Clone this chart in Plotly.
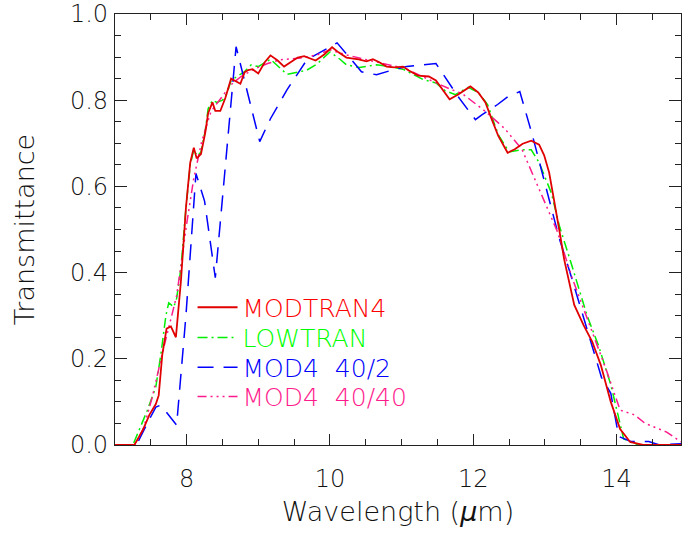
import plotly.graph_objects as go

# ---------------- data ----------------
wl_modtran4 = [7.0, 7.27, 7.39, 7.48, 7.57, 7.61, 7.66, 7.72, 7.78, 7.85, 7.92, 7.99, 8.05, 8.10, 8.14,
               8.20, 8.26, 8.30, 8.36, 8.40, 8.47, 8.54, 8.62, 8.67, 8.75, 8.81, 8.86, 8.92, 9.00, 9.09,
               9.17, 9.27, 9.36, 9.45, 9.55, 9.64, 9.80, 9.92, 10.03, 10.12, 10.23, 10.40, 10.51, 10.60,
               10.69, 10.79, 10.90, 11.02, 11.10, 11.23, 11.38, 11.48, 11.57, 11.67, 11.79, 11.96, 12.07,
               12.17, 12.26, 12.35, 12.48, 12.58, 12.69, 12.81, 12.92, 12.99, 13.06, 13.13, 13.20, 13.27,
               13.34, 13.41, 13.54, 13.66, 13.78, 13.92, 14.05, 14.19, 14.37, 14.90]
t_modtran4 = [0.0, 0.0, 0.035, 0.07, 0.095, 0.115, 0.21, 0.27, 0.275, 0.25, 0.38, 0.55, 0.655, 0.69, 0.665,
              0.675, 0.725, 0.77, 0.795, 0.775, 0.775, 0.805, 0.85, 0.845, 0.838, 0.865, 0.87, 0.872, 0.862, 0.888,
              0.904, 0.892, 0.878, 0.888, 0.899, 0.902, 0.892, 0.906, 0.923, 0.911, 0.899, 0.895, 0.89, 0.895,
              0.888, 0.878, 0.876, 0.878, 0.869, 0.857, 0.855, 0.846, 0.825, 0.802, 0.813, 0.832, 0.818,
              0.795, 0.755, 0.717, 0.678, 0.686, 0.699, 0.706, 0.697, 0.672, 0.632, 0.57, 0.50, 0.43,
              0.375, 0.325, 0.278, 0.24, 0.186, 0.10, 0.037, 0.007, 0.0, 0.0]

wl_lowtran = [7.0, 7.25, 7.45, 7.57, 7.64, 7.71, 7.75, 7.82, 7.86, 7.92, 7.99, 8.05, 8.10, 8.15, 8.20, 8.26,
              8.30, 8.36, 8.42, 8.50, 8.56, 8.62, 8.70, 8.80, 8.90, 9.00, 9.17, 9.40, 9.55, 9.68, 9.82,
              10.00, 10.14, 10.23, 10.41, 10.65, 10.83, 11.02, 11.30, 11.48, 11.61, 11.75, 11.93, 12.07,
              12.20, 12.35, 12.50, 12.68, 12.81, 12.92, 13.09, 13.20, 13.37, 13.59, 13.75, 13.92, 14.10,
              14.30, 14.90]
t_lowtran = [0.0, 0.0, 0.08, 0.135, 0.21, 0.30, 0.33, 0.32, 0.34, 0.41, 0.55, 0.65, 0.685, 0.67, 0.68, 0.73,
             0.78, 0.80, 0.795, 0.80, 0.815, 0.845, 0.855, 0.865, 0.882, 0.878, 0.895, 0.86, 0.865, 0.87, 0.884,
             0.912, 0.895, 0.882, 0.876, 0.882, 0.878, 0.872, 0.848, 0.84, 0.822, 0.813, 0.83, 0.818,
             0.79, 0.72, 0.68, 0.685, 0.685, 0.655, 0.585, 0.51, 0.42, 0.30, 0.23, 0.14, 0.014,
             0.0, 0.0]

wl_mod4_40_2 = [7.0, 7.30, 7.45, 7.57, 7.63, 7.70, 7.86, 7.99, 8.13, 8.25, 8.40, 8.69, 9.02, 9.17, 9.40,
                9.68, 9.80, 10.10, 10.30, 10.44, 10.65, 10.83, 11.07, 11.27, 11.48, 11.79, 12.03, 12.12,
                12.34, 12.48, 12.65, 12.83, 13.02, 13.20, 13.37, 13.54, 13.66, 13.79, 13.92, 14.03, 14.20,
                14.45, 14.60, 14.90]
t_mod4_40_2 = [0.0, 0.0, 0.05, 0.088, 0.092, 0.08, 0.046, 0.30, 0.63, 0.566, 0.388, 0.924, 0.704, 0.757, 0.824,
               0.894, 0.905, 0.933, 0.894, 0.866, 0.859, 0.868, 0.878, 0.882, 0.885, 0.808, 0.755, 0.766,
               0.79, 0.808, 0.82, 0.716, 0.596, 0.48, 0.39, 0.295, 0.226, 0.157, 0.12, 0.02, 0.008,
               0.008, 0.0, 0.003]

wl_mod4_40_40 = [7.0, 7.28, 7.40, 7.52, 7.66, 7.78, 7.86, 7.92, 8.00, 8.10, 8.21, 8.34, 8.48, 8.62, 8.76,
                 8.95, 9.13, 9.31, 9.59, 9.82, 10.00, 10.23, 10.51, 10.83, 11.06, 11.38, 11.66, 11.85,
                 12.17, 12.44, 12.68, 12.95, 13.17, 13.38, 13.64, 13.86, 14.05, 14.25, 14.40, 14.70, 14.90]
t_mod4_40_40 = [0.0, 0.0, 0.04, 0.111, 0.212, 0.289, 0.346, 0.416, 0.513, 0.619, 0.704, 0.774, 0.804, 0.836,
                0.855, 0.873, 0.885, 0.894, 0.898, 0.905, 0.917, 0.905, 0.894, 0.882, 0.873, 0.848, 0.827,
                0.815, 0.774, 0.734, 0.686, 0.582, 0.497, 0.388, 0.273, 0.173, 0.081, 0.07, 0.05, 0.03, 0.007]

series_names = ["MODTRAN4", "LOWTRAN", "MOD4  40/2", "MOD4  40/40"]
series_colors = ["#e00000", "#00ee00", "#0000ff", "#ff1a8c"]
legend_text_colors = ["#ff0000", "#00ff00", "#0000ff", "#ff1a8c"]
series_dashes = ["solid", "10px,4px,2px,4px", "16px,10px", "9px,4px,2px,4px,2px,4px,2px,4px"]
series_widths = [1.8, 1.5, 1.5, 1.5]
series_x = [wl_modtran4, wl_lowtran, wl_mod4_40_2, wl_mod4_40_40]
series_y = [t_modtran4, t_lowtran, t_mod4_40_2, t_mod4_40_40]

x_ticks = [8, 10, 12, 14]
y_ticks = [0.0, 0.2, 0.4, 0.6, 0.8, 1.0]

FONT = "DejaVu Sans"
legend_ids = ["legend", "legend2", "legend3", "legend4"]
legend_rows_y = [0.319, 0.249, 0.180, 0.112]  # paper positions of legend rows

fig = go.Figure()
order = [1, 2, 3, 0]  # draw MODTRAN4 last (on top)
for i in order:
    fig.add_trace(go.Scatter(
        x=series_x[i], y=series_y[i], mode="lines",
        name=f"<span style='color:{legend_text_colors[i]}'>{series_names[i]}</span>",
        line=dict(color=series_colors[i], width=series_widths[i], dash=series_dashes[i]),
        legend=legend_ids[i],
    ))

axis_common = dict(
    showgrid=False, zeroline=False, showline=True, linecolor="#222", linewidth=1.2,
    mirror="allticks", ticks="inside", tickcolor="#222", tickwidth=1.2,
    tickfont=dict(family=FONT, size=24, color="#111", weight=300),
    ticklabeloverflow="allow",
)

fig.update_xaxes(
    range=[7.0, 14.9], tickvals=x_ticks, ticktext=[str(v) for v in x_ticks], ticklen=11,
    minor=dict(dtick=0.5, ticks="inside", ticklen=6, tickcolor="#222", tickwidth=1.2),
    title=dict(text="Wavelength (<i>μ</i>m)", font=dict(family=FONT, size=27, color="#111", weight=300),
               standoff=10),
    ticklabelstandoff=12,
    **axis_common,
)
fig.update_yaxes(
    range=[0.0, 1.0], tickvals=y_ticks, ticktext=[f"{v:.1f}" for v in y_ticks], ticklen=12,
    minor=dict(dtick=0.05, ticks="inside", ticklen=6, tickcolor="#222", tickwidth=1.2),
    title=dict(text="Transmittance", font=dict(family=FONT, size=27, color="#111", weight=300),
               standoff=27),
    ticklabelstandoff=1,
    **axis_common,
)

legend_style = dict(
    x=0.137, xanchor="left", yanchor="middle",
    bgcolor="rgba(0,0,0,0)", borderwidth=0,
    font=dict(family=FONT, size=25, weight=300),
    itemwidth=40,
)
layout_legends = {lid: dict(y=ly, **legend_style) for lid, ly in zip(legend_ids, legend_rows_y)}

fig.update_layout(
    width=682, height=533,
    margin=dict(l=115, r=0, t=12, b=88),
    paper_bgcolor="white", plot_bgcolor="white",
    showlegend=True,
    **layout_legends,
)

fig.write_html("out.html")
